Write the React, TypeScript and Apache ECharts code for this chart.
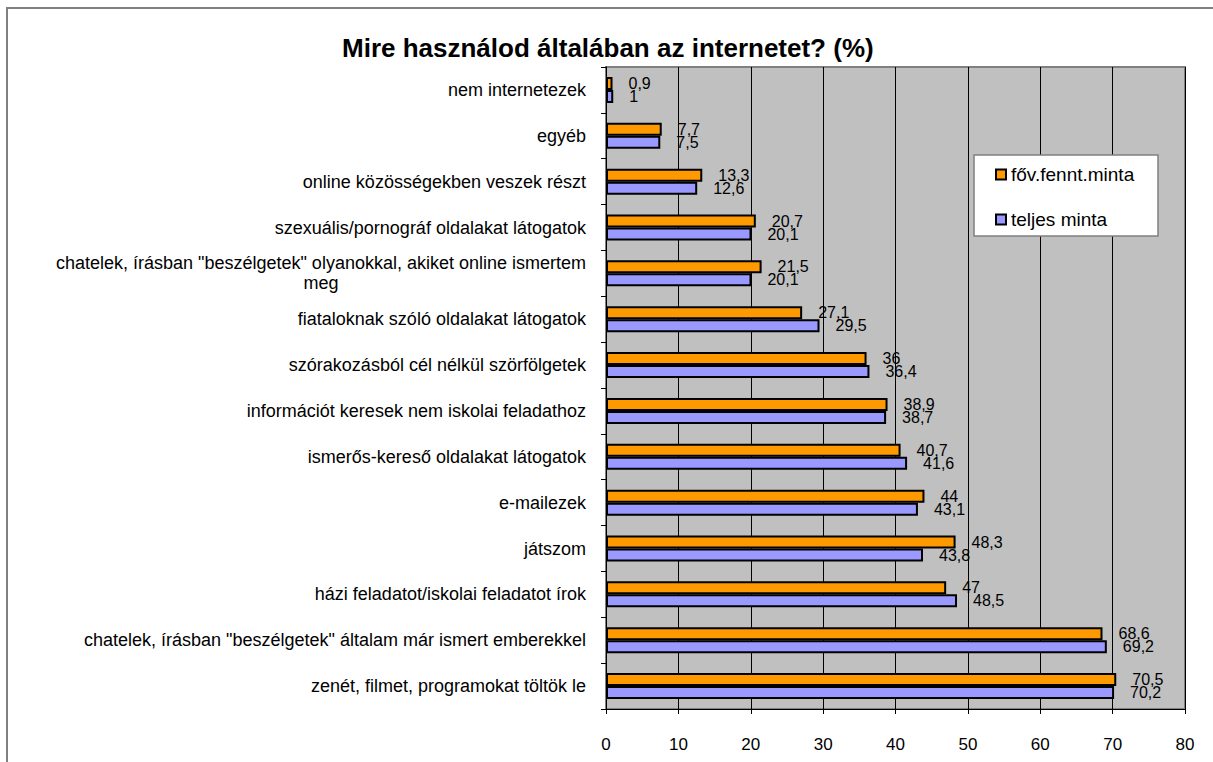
import React, { useEffect, useRef } from "react";
import * as echarts from "echarts";

const LONG_LABEL = 'chatelek, írásban "beszélgetek" olyanokkal, akiket online ismertem meg';

// bottom -> top
const categories = [
  "zenét, filmet, programokat töltök le",
  'chatelek, írásban "beszélgetek" általam már ismert emberekkel',
  "házi feladatot/iskolai feladatot írok",
  "játszom",
  "e-mailezek",
  "ismerős-kereső oldalakat látogatok",
  "információt keresek nem iskolai feladathoz",
  "szórakozásból cél nélkül szörfölgetek",
  "fiataloknak szóló oldalakat látogatok",
  LONG_LABEL,
  "szexuális/pornográf oldalakat látogatok",
  "online közösségekben veszek részt",
  "egyéb",
  "nem internetezek",
];

const fovFenntMinta = [70.5, 68.6, 47, 48.3, 44, 40.7, 38.9, 36, 27.1, 21.5, 20.7, 13.3, 7.7, 0.9];
const teljesMinta = [70.2, 69.2, 48.5, 43.8, 43.1, 41.6, 38.7, 36.4, 29.5, 20.1, 20.1, 12.6, 7.5, 1];

const seriesNames = ["főv.fennt.minta", "teljes minta"];
const xTicks = { min: 0, max: 80, interval: 10 };

const FONT = '"Liberation Sans", Arial, sans-serif';

export default function App() {
  const ref = useRef<HTMLDivElement>(null);
  useEffect(() => {
    if (!ref.current) return;
    const chart = echarts.init(ref.current, null, { renderer: "svg" });
    const labelFmt = (p: any) => String(p.value).replace(".", ",");
    chart.setOption({
      animation: false,
      backgroundColor: "#ffffff",
      textStyle: { fontFamily: FONT },
      title: {
        text: "Mire használod általában az internetet? (%)",
        left: 337,
        top: 30,
        textStyle: { fontFamily: FONT, fontSize: 26, fontWeight: "bold", color: "#000" },
      },
      graphic: [
        {
          type: "rect",
          shape: { x: 7, y: 8, width: 1240, height: 800 },
          style: { fill: "none", stroke: "#808080", lineWidth: 2 },
          z: 100,
        },
        {
          type: "rect",
          shape: { x: 974, y: 155, width: 184, height: 81 },
          style: { fill: "#ffffff", stroke: "#808080", lineWidth: 1.5 },
          z: 50,
        },
      ],
      legend: {
        data: seriesNames,
        orient: "vertical",
        left: 995,
        top: 165,
        padding: 0,
        itemWidth: 10,
        itemHeight: 10,
        itemGap: 26,
        icon: "rect",
        z: 60,
        itemStyle: { borderColor: "#000", borderWidth: 2 },
        textStyle: { fontFamily: FONT, fontSize: 19, color: "#000", padding: [0, 0, 0, 0] },
      },
      grid: {
        left: 606,
        right: 28,
        top: 67,
        bottom: 53,
        show: true,
        backgroundColor: "#C0C0C0",
        borderColor: "#808080",
        borderWidth: 2,
      },
      xAxis: {
        type: "value",
        min: xTicks.min,
        max: xTicks.max,
        interval: xTicks.interval,
        axisLine: { show: true, lineStyle: { color: "#000", width: 1 } },
        axisTick: { show: true, length: 5, lineStyle: { color: "#000" } },
        splitLine: { show: true, lineStyle: { color: "#000", width: 1 } },
        axisLabel: { fontFamily: FONT, fontSize: 17, color: "#000", margin: 27 },
      },
      yAxis: {
        type: "category",
        data: categories,
        axisLine: { show: true, lineStyle: { color: "#000", width: 1 } },
        axisTick: { show: true, length: 5, lineStyle: { color: "#000" } },
        axisLabel: {
          interval: 0,
          fontFamily: FONT,
          fontSize: 18,
          color: "#000",
          margin: 20,
          formatter: (v: string) =>
            v === LONG_LABEL
              ? '{a|chatelek, írásban "beszélgetek" olyanokkal, akiket online ismertem}\n{b|meg}'
              : v,
          rich: {
            a: { fontFamily: FONT, fontSize: 18, color: "#000", lineHeight: 20 },
            b: { fontFamily: FONT, fontSize: 18, color: "#000", lineHeight: 20, width: 530, align: "center" },
          },
        },
      },
      series: [
        {
          name: seriesNames[0],
          type: "bar",
          data: fovFenntMinta,
          barWidth: 13,
          barGap: "0%",
          itemStyle: { color: "#FF9900", borderColor: "#000", borderWidth: 2 },
          label: {
            show: true,
            position: "right",
            distance: 16,
            formatter: labelFmt,
            fontFamily: FONT,
            fontSize: 16,
            color: "#000",
          },
        },
        {
          name: seriesNames[1],
          type: "bar",
          data: teljesMinta,
          barWidth: 13,
          barGap: "0%",
          itemStyle: { color: "#9999FF", borderColor: "#000", borderWidth: 2 },
          label: {
            show: true,
            position: "right",
            distance: 16,
            formatter: labelFmt,
            fontFamily: FONT,
            fontSize: 16,
            color: "#000",
          },
        },
      ],
    });
    return () => chart.dispose();
  }, []);
  return (
    <div
      ref={ref}
      style={{ position: "absolute", left: 0, top: 0, width: 1213, height: 762 }}
    />
  );
}
